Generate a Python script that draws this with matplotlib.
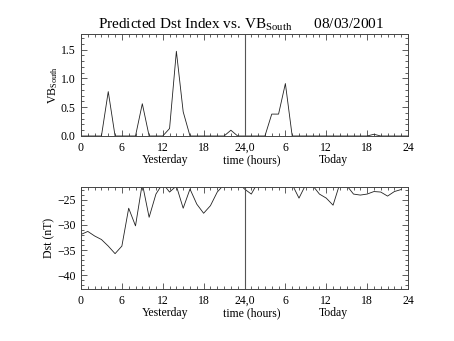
import numpy as np
import matplotlib
matplotlib.use('Agg')
import matplotlib.pyplot as plt
from matplotlib.ticker import MultipleLocator

# hourly values, yesterday 0-23 followed by today 0-23
hours_vb = np.arange(49)
vb_south = [0, 0, 0, 0, 0.77, 0, 0, 0, 0, 0.56, 0, 0, 0, 0.13, 1.47, 0.42,
            0, 0, 0, 0, 0, 0, 0.10, 0, 0,
            0, 0, 0, 0.38, 0.38, 0.91, 0, 0, 0, 0, 0, 0, 0, 0, 0, 0, 0,
            0, 0.03, 0, 0, 0, 0, 0]

hours_dst = np.arange(48)
dst = [-31.9, -31.3, -32.2, -32.9, -34.2, -35.7, -34.2, -26.7, -30.2, -21.8,
       -28.5, -23.9, -21.8, -23.5, -22.3, -26.7, -22.9, -25.9, -27.7, -26.2,
       -23.5, -22.0, -21.5, -21.5,
       -22.9, -23.9, -21.5, -21.5, -21.5, -21.5, -21.5, -22.0, -24.7, -22.0,
       -22.2, -23.9, -24.7, -26.1, -21.8, -22.2, -23.9, -24.1, -23.9, -23.4,
       -23.5, -24.3, -23.4, -23.0]

x_ticks = [0, 6, 12, 18, 24, 30, 36, 42, 48]
x_labels = ['0', '6', '12', '18', '24,0', '6', '12', '18', '24']

plt.rcParams['font.family'] = 'Liberation Serif'
plt.rcParams['mathtext.fontset'] = 'custom'
plt.rcParams['mathtext.rm'] = 'Liberation Serif'
plt.rcParams['mathtext.it'] = 'Liberation Serif'

fig = plt.figure(figsize=(4.54, 3.41), dpi=100)
ax1 = fig.add_axes([81 / 454, 1 - 136 / 341, 327 / 454, 102 / 341])
ax2 = fig.add_axes([81 / 454, 1 - 289 / 341, 327 / 454, 102 / 341])


def style_axis(ax):
    ax.set_xlim(0, 48)
    ax.set_xticks(x_ticks)
    ax.set_xticklabels(x_labels)
    ax.xaxis.set_minor_locator(MultipleLocator(1))
    ax.tick_params(which='both', direction='in', top=True, right=True,
                   labelsize=8.5, color='#444444', pad=4)
    ax.tick_params(which='major', length=4, width=0.6)
    ax.tick_params(which='minor', length=2, width=0.6)
    for s in ax.spines.values():
        s.set_linewidth(0.7)
        s.set_color('#444444')
    ax.axvline(24, color='#555555', lw=0.8)
    tr = ax.get_xaxis_transform()
    ax.text(12.4, -0.235, 'Yesterday', transform=tr, ha='center', va='center', fontsize=8.5)
    ax.text(25.1, -0.235, 'time (hours)', transform=tr, ha='center', va='center', fontsize=8.5)
    ax.text(37.1, -0.235, 'Today', transform=tr, ha='center', va='center', fontsize=8.5)


ax1.plot(hours_vb, vb_south, color='#222222', lw=0.6)
ax1.set_ylim(0, 1.77)
ax1.set_yticks([0, 0.5, 1.0, 1.5])
ax1.set_yticklabels(['0.0', '0.5', '1.0', '1.5'])
ax1.yaxis.set_minor_locator(MultipleLocator(0.1))
ax1.set_ylabel(r'VB$_{\rm South}$', fontsize=8.5)
ax1.yaxis.set_label_coords(-0.065, 0.5)
style_axis(ax1)

ax2.plot(hours_dst, dst, color='#222222', lw=0.6)
ax2.set_ylim(-42.7, -22.5)
ax2.set_yticks([-40, -35, -30, -25])
ax2.yaxis.set_minor_locator(MultipleLocator(1))
ax2.set_ylabel('Dst (nT)', fontsize=8.5)
ax2.yaxis.set_label_coords(-0.08, 0.5)
style_axis(ax2)

fig.text(0.53, 0.927, r'Predicted Dst Index vs. VB$_{\rm South}$      08/03/2001',
         ha='center', va='center', fontsize=11)

fig.savefig('out.png', dpi=100)
